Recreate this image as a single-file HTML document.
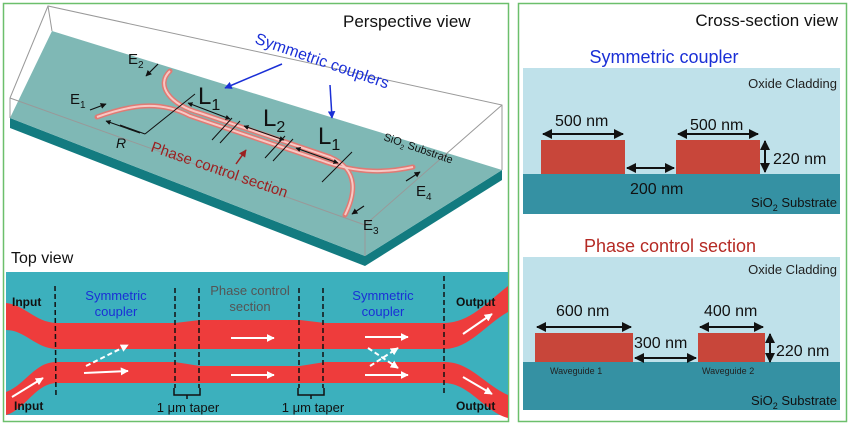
<!DOCTYPE html>
<html><head><meta charset="utf-8"><style>
html,body{margin:0;padding:0;background:#fff;}
svg{display:block;font-family:"Liberation Sans",sans-serif;}
</style></head><body>
<svg width="850" height="426" viewBox="0 0 850 426" xmlns="http://www.w3.org/2000/svg">
<defs>
<marker id="ah" viewBox="0 0 10 10" refX="9" refY="5" markerWidth="5" markerHeight="5" orient="auto-start-reverse"><path d="M0,0L10,5L0,10z" fill="#111"/></marker>
<marker id="ab" viewBox="0 0 10 10" refX="9" refY="5" markerWidth="5" markerHeight="5" orient="auto"><path d="M0,0L10,5L0,10z" fill="#1a2fd6"/></marker>
<marker id="ar" viewBox="0 0 10 10" refX="9" refY="5" markerWidth="5" markerHeight="5" orient="auto"><path d="M0,0L10,5L0,10z" fill="#9b2020"/></marker>
<marker id="aw" viewBox="0 0 10 10" refX="9" refY="5" markerWidth="4" markerHeight="4" orient="auto"><path d="M0,0L10,5L0,10z" fill="#fff"/></marker>
</defs>
<rect x="3.5" y="3.5" width="505" height="418" fill="none" stroke="#6cbf6c" stroke-width="1.5"/>
<rect x="518.5" y="3.5" width="328" height="418" fill="none" stroke="#6cbf6c" stroke-width="1.5"/>

<polygon points="10,118 10,128 365,266 502,180 502,170 365,256" fill="#137b80"/>
<polygon points="10,118 52,31 502,170 365,256" fill="#7fb8b5"/>
<g fill="none" stroke="#999" stroke-width="1">
<polyline points="10,118 10,98 48,6 502,105 502,170"/>
<line x1="48" y1="6" x2="52" y2="31"/>
<polyline points="10,98 365,225 502,105"/>
<line x1="365" y1="225" x2="365" y2="256"/>
</g>
<g fill="none" stroke="#e07a74" stroke-width="5" stroke-linecap="round">
<path d="M97,117 C130,105 160,100 190,116 L320,160 C360,175 390,172 413,167"/>
<path d="M170,71 C155,85 170,105 200,113 L330,157 C360,170 355,195 345,215"/>
</g>
<g fill="none" stroke="#f8c8c4" stroke-width="2">
<path d="M97,117 C130,105 160,100 190,116 L320,160 C360,175 390,172 413,167"/>
<path d="M170,71 C155,85 170,105 200,113 L330,157 C360,170 355,195 345,215"/>
</g>
<g stroke="#111" stroke-width="1">
<line x1="195" y1="94" x2="145" y2="134"/>
<line x1="145" y1="134" x2="120" y2="125"/>
<line x1="212" y1="140" x2="232" y2="118"/>
<line x1="220" y1="143" x2="240" y2="121"/>
<line x1="265" y1="158" x2="285" y2="136"/>
<line x1="273" y1="161" x2="293" y2="139"/>
<line x1="322" y1="182" x2="352" y2="152"/>
</g>
<line x1="140" y1="133" x2="106" y2="121" stroke="#111" stroke-width="1" marker-end="url(#ah)"/>
<line x1="188" y1="103" x2="230" y2="119" stroke="#111" stroke-width="1" marker-end="url(#ah)" marker-start="url(#ah)"/>
<line x1="244" y1="126" x2="284" y2="140" stroke="#111" stroke-width="1" marker-end="url(#ah)" marker-start="url(#ah)"/>
<line x1="296" y1="148" x2="338" y2="163" stroke="#111" stroke-width="1" marker-end="url(#ah)" marker-start="url(#ah)"/>
<line x1="90" y1="110" x2="106" y2="104" stroke="#111" stroke-width="1.2" marker-end="url(#ah)"/>
<line x1="158" y1="64" x2="146" y2="76" stroke="#111" stroke-width="1.2" marker-end="url(#ah)"/>
<line x1="406" y1="181" x2="420" y2="172" stroke="#111" stroke-width="1.2" marker-end="url(#ah)"/>
<line x1="364" y1="206" x2="352" y2="214" stroke="#111" stroke-width="1.2" marker-end="url(#ah)"/>
<g fill="#111" font-size="15">
<text x="128" y="64">E<tspan font-size="10" dy="4">2</tspan></text>
<text x="70" y="104">E<tspan font-size="10" dy="4">1</tspan></text>
<text x="416" y="196">E<tspan font-size="10" dy="4">4</tspan></text>
<text x="363" y="230">E<tspan font-size="10" dy="4">3</tspan></text>
<text x="116" y="148" font-style="italic" font-size="14">R</text>
</g>
<g fill="#111" font-size="24">
<text x="198" y="104">L<tspan font-size="16" dy="6">1</tspan></text>
<text x="263" y="126">L<tspan font-size="16" dy="6">2</tspan></text>
<text x="318" y="144">L<tspan font-size="16" dy="6">1</tspan></text>
</g>
<text x="254" y="43" font-size="16" fill="#1a2fd6" transform="rotate(19 254 43)">Symmetric couplers</text>
<line x1="282" y1="64" x2="225" y2="88" stroke="#1a2fd6" stroke-width="1.5" marker-end="url(#ab)"/>
<line x1="330" y1="85" x2="332" y2="118" stroke="#1a2fd6" stroke-width="1.5" marker-end="url(#ab)"/>
<text x="150" y="151" font-size="15" fill="#9b2020" transform="rotate(19 150 151)">Phase control section</text>
<line x1="236" y1="164" x2="246" y2="150" stroke="#9b2020" stroke-width="1.5" marker-end="url(#ar)"/>
<text x="383" y="140" font-size="11" fill="#111" transform="rotate(19 383 140)">SiO<tspan font-size="7" dy="3">2</tspan><tspan dy="-3"> Substrate</tspan></text>
<text x="343" y="27" font-size="17" fill="#111">Perspective view</text>
<text x="11" y="263" font-size="16" fill="#111">Top view</text>

<rect x="6" y="272" width="502" height="143" fill="#3cb0bd"/>
<g fill="#ee3c3c">
<path d="M6,303 C25,305 35,322 56,323 L175,323 L200,320 L300,320 L325,323 L445,323 C470,322 485,304 508,286 L508,312 C485,325 470,348 445,349 L56,349 C35,348 25,330 6,330Z"/>
<path d="M6,392 C25,385 35,362 56,362 L175,362 L200,366 L300,366 L325,362 L445,362 C470,362 485,385 508,395 L508,418 C485,412 470,384 445,383 L56,383 C35,384 25,410 6,415Z"/>
</g>
<g stroke="#111" stroke-width="1.5" stroke-dasharray="5,3">
<line x1="55" y1="286" x2="56" y2="398"/>
<line x1="175" y1="288" x2="175" y2="388"/>
<line x1="199" y1="288" x2="199" y2="388"/>
<line x1="299" y1="288" x2="299" y2="388"/>
<line x1="323" y1="288" x2="323" y2="388"/>
<line x1="444" y1="276" x2="444" y2="396"/>
</g>
<g fill="none" stroke="#111" stroke-width="1.5">
<path d="M174,388 v7 h26 v-7 M187,395 v4"/>
<path d="M298,388 v7 h26 v-7 M311,395 v4"/>
</g>
<g stroke="#fff" stroke-width="2" marker-end="url(#aw)">
<line x1="231" y1="338" x2="274" y2="338"/>
<line x1="231" y1="375" x2="274" y2="375"/>
<line x1="84" y1="373" x2="128" y2="371"/>
<line x1="86" y1="366" x2="128" y2="345" stroke-dasharray="5,3"/>
<line x1="365" y1="337" x2="408" y2="337"/>
<line x1="365" y1="375" x2="408" y2="375"/>
<line x1="368" y1="348" x2="398" y2="368" stroke-dasharray="5,3"/>
<line x1="370" y1="366" x2="398" y2="348" stroke-dasharray="5,3"/>
<line x1="12" y1="397" x2="43" y2="378"/>
<line x1="463" y1="334" x2="492" y2="314"/>
<line x1="463" y1="377" x2="492" y2="394"/>
</g>
<g font-size="12" font-weight="bold" fill="#111">
<text x="12" y="306">Input</text>
<text x="14" y="410">Input</text>
<text x="456" y="306">Output</text>
<text x="456" y="410">Output</text>
</g>
<g font-size="13" fill="#1a2fd6" text-anchor="middle">
<text x="116" y="300">Symmetric</text><text x="116" y="316">coupler</text>
<text x="383" y="300">Symmetric</text><text x="383" y="316">coupler</text>
</g>
<g font-size="13" fill="#555" text-anchor="middle">
<text x="250" y="295">Phase control</text><text x="250" y="311">section</text>
</g>
<g font-size="13" fill="#111" text-anchor="middle">
<text x="188" y="412">1 μm taper</text><text x="313" y="412">1 μm taper</text>
</g>

<text x="838" y="26" font-size="17" fill="#111" text-anchor="end">Cross-section view</text>
<text x="664" y="63" font-size="18" fill="#1a2fd6" text-anchor="middle">Symmetric coupler</text>
<rect x="523" y="68" width="317" height="146" fill="#bfe1ea"/>
<rect x="523" y="174" width="317" height="40" fill="#3591a3"/>
<rect x="541" y="140" width="84" height="34" fill="#c8463a"/>
<rect x="676" y="140" width="84" height="34" fill="#c8463a"/>
<text x="837" y="88" font-size="13" fill="#222" text-anchor="end">Oxide Cladding</text>
<text x="837" y="207" font-size="13" fill="#111" text-anchor="end">SiO<tspan font-size="9" dy="4">2</tspan><tspan dy="-4"> Substrate</tspan></text>
<g stroke="#111" stroke-width="2" marker-end="url(#ah)" marker-start="url(#ah)">
<line x1="543" y1="134" x2="623" y2="134"/>
<line x1="678" y1="134" x2="758" y2="134"/>
<line x1="627" y1="168" x2="674" y2="168"/>
<line x1="765" y1="141" x2="765" y2="172"/>
</g>
<g font-size="16" fill="#111">
<text x="555" y="126">500 nm</text><text x="690" y="130">500 nm</text>
<text x="630" y="194">200 nm</text><text x="773" y="164">220 nm</text>
</g>

<text x="670" y="252" font-size="18" fill="#b52a24" text-anchor="middle">Phase control section</text>
<rect x="523" y="257" width="317" height="153" fill="#bfe1ea"/>
<rect x="523" y="362" width="317" height="48" fill="#3591a3"/>
<rect x="535" y="333" width="98" height="29" fill="#c8463a"/>
<rect x="698" y="333" width="67" height="29" fill="#c8463a"/>
<text x="837" y="274" font-size="13" fill="#222" text-anchor="end">Oxide Cladding</text>
<text x="837" y="405" font-size="13" fill="#111" text-anchor="end">SiO<tspan font-size="9" dy="4">2</tspan><tspan dy="-4"> Substrate</tspan></text>
<g stroke="#111" stroke-width="2" marker-end="url(#ah)" marker-start="url(#ah)">
<line x1="537" y1="327" x2="631" y2="327"/>
<line x1="700" y1="327" x2="763" y2="327"/>
<line x1="635" y1="358" x2="696" y2="358"/>
<line x1="770" y1="334" x2="770" y2="362"/>
</g>
<g font-size="16" fill="#111">
<text x="556" y="316">600 nm</text><text x="704" y="316">400 nm</text>
<text x="634" y="348">300 nm</text><text x="776" y="356">220 nm</text>
</g>
<g font-size="9" fill="#222">
<text x="550" y="374">Waveguide 1</text><text x="702" y="374">Waveguide 2</text>
</g>
</svg>
</body></html>
